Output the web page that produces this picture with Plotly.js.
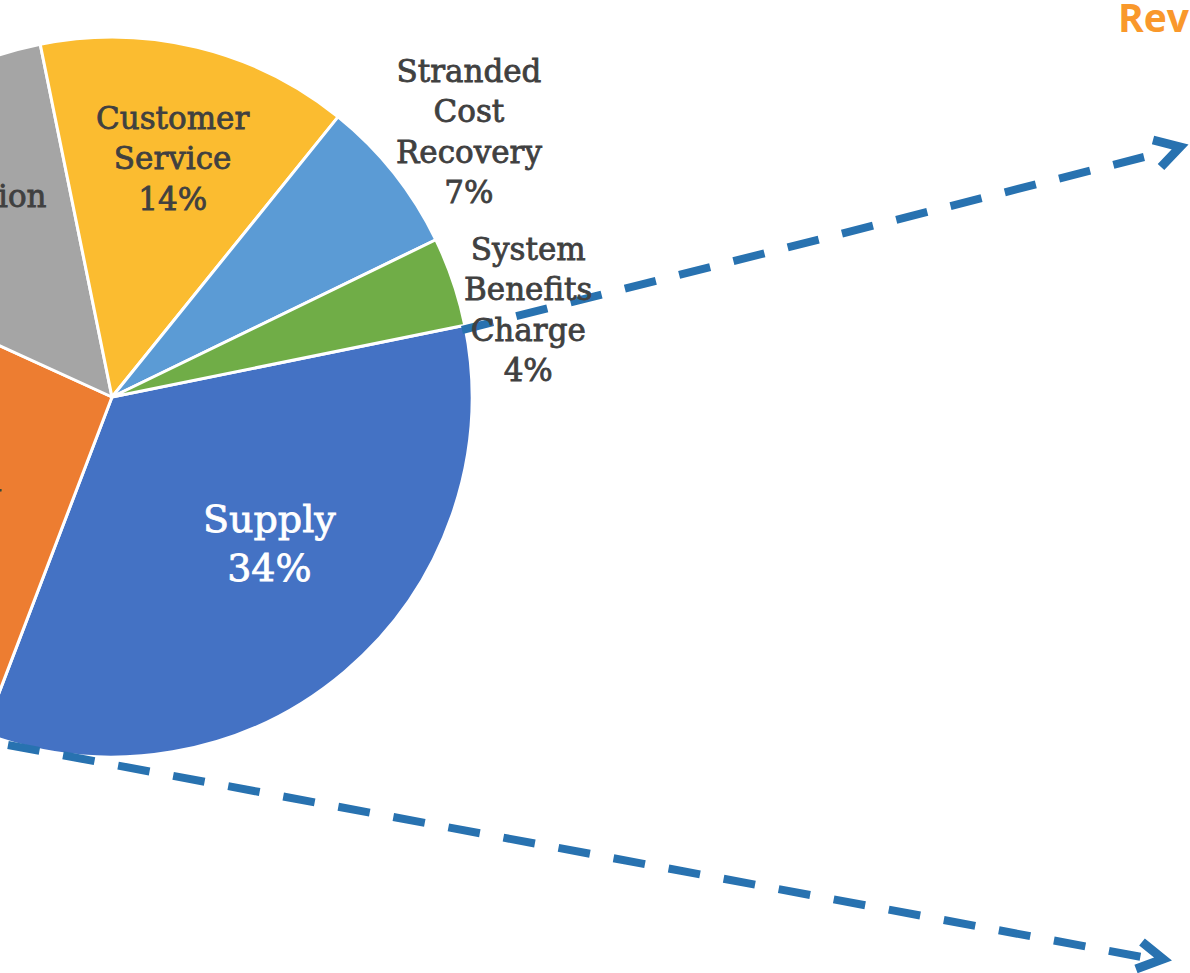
<!DOCTYPE html>
<html><head><meta charset="utf-8">
<script src="https://cdn.plot.ly/plotly-3.0.1.min.js"></script>
<style>
html,body{margin:0;padding:0;overflow:hidden;background:#fff;width:1190px;height:973px;}
#chart{position:absolute;left:-300px;top:0;width:1490px;height:973px;}
</style>
</head><body><div id="chart"></div>
<script>
// ---- data ----
const categories = ['Supply','Distribution','Transmission','Customer Service','Stranded Cost Recovery','System Benefits Charge'];
const shares = [34, 26, 15, 14, 7, 4];
const labelLines = ['Supply','Distribution','Transmission','Customer<br>Service','Stranded<br>Cost<br>Recovery','System<br>Benefits<br>Charge'];
const sliceColors = ['#4472C4','#ED7D31','#A5A5A5','#FBBC30','#5B9BD5','#70AD47'];
const titleText = 'Revenue Requirement';

// ---- layout helpers (page pixels -> paper) ----
const OFF = 300, W = 1490, H = 973;
const px = (x, y) => [(x + OFF) / W, 1 - y / H];
const cx = 112, cy = 397, R = 360;

// label anchor positions (page pixels)
const labelPos = [[269,543],[-92,500],[-58,216],[172,158],[469,131],[528,309]];
const labelColor = ['#FFFFFF','#404040','#404040','#404040','#404040','#404040'];
const labelSize = [38,31,31,31,31,31];

const annotations = categories.map((c, i) => {
  const p = px(labelPos[i][0], labelPos[i][1]);
  return {
    xref:'paper', yref:'paper', x:p[0], y:p[1], xanchor:'center', yanchor:'middle',
    text: labelLines[i] + '<br>' + shares[i] + '%', showarrow:false, align:'center',
    font:{family:'DejaVu Serif', size:labelSize[i], color:labelColor[i]}
  };
});
const tp = px(1116, 17);
annotations.push({xref:'paper', yref:'paper', x:tp[0], y:tp[1], xanchor:'left', yanchor:'middle',
  text:'<b>'+titleText+'</b>', showarrow:false, font:{family:'Open Sans', size:39, color:'#F9982B'}});

function lineShape(a, b) {
  const p0 = px(a[0], a[1]), p1 = px(b[0], b[1]);
  return {type:'line', xref:'paper', yref:'paper', x0:p0[0], y0:p0[1], x1:p1[0], y1:p1[1],
    line:{color:'#2872B0', width:8, dash:'32px,24px'}};
}
function chevron(pts) {
  const d = pts.map((q, i) => { const p = px(q[0], q[1]); return (i ? 'L' : 'M') + p[0] + ',' + p[1]; }).join(' ');
  return {type:'path', xref:'paper', yref:'paper', path:d, line:{color:'#2872B0', width:9}};
}
const shapes = [
  lineShape([462,330],[1144,157]),
  chevron([[1153,140],[1180,147],[1161,167]]),
  lineShape([8,745],[1142,957]),
  chevron([[1142,942],[1163,959],[1136,969]])
];

const trace = {
  type:'pie', labels:categories, values:shares, sort:false, direction:'clockwise', rotation:78.5,
  marker:{colors:sliceColors, line:{color:'#FFFFFF', width:3}},
  textinfo:'none', hoverinfo:'skip', showlegend:false,
  domain:{x:[(cx - R + OFF)/W, (cx + R + OFF)/W], y:[1 - (cy + R)/H, 1 - (cy - R)/H]}
};

Plotly.newPlot('chart', [trace], {
  width:W, height:H, margin:{l:0,r:0,t:0,b:0}, paper_bgcolor:'#fff', plot_bgcolor:'#fff',
  showlegend:false, annotations:annotations, shapes:shapes
}, {staticPlot:true, displayModeBar:false}).then(gd => {
  // give the serif slice labels a slightly heavier stroke, like the reference
  gd.querySelectorAll('.annotation-text').forEach((t, i) => {
    if (i < categories.length) {
      t.style.stroke = labelColor[i];
      t.style.strokeWidth = '0.8px';
    }
  });
});
</script>
</body></html>
